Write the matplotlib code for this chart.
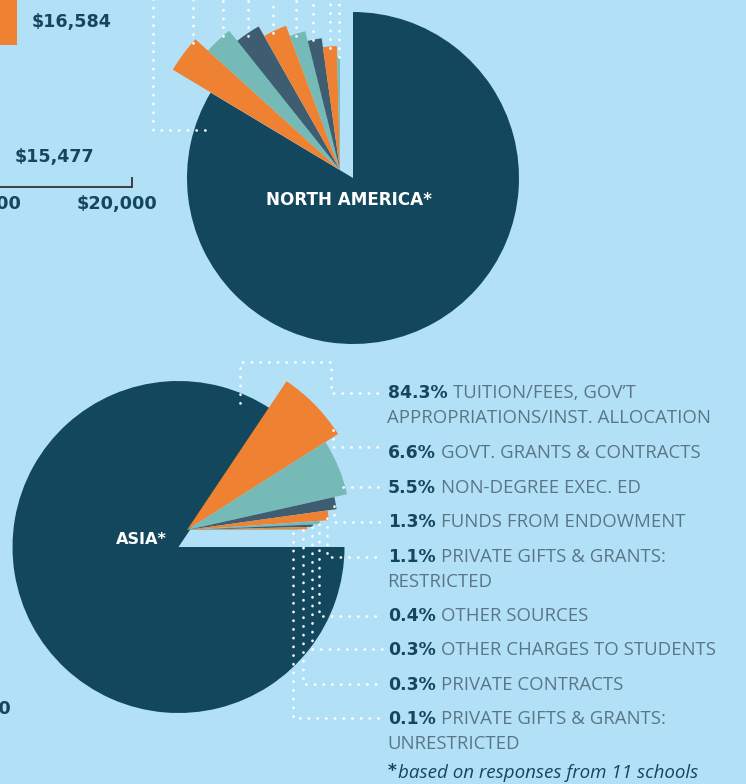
import matplotlib
matplotlib.use("Agg")
import matplotlib.pyplot as plt

# ---------------- data ----------------
categories = [
    "TUITION/FEES, GOV\u2019T\nAPPROPRIATIONS/INST. ALLOCATION",
    "GOVT. GRANTS & CONTRACTS",
    "NON-DEGREE EXEC. ED",
    "FUNDS FROM ENDOWMENT",
    "PRIVATE GIFTS & GRANTS:\nRESTRICTED",
    "OTHER SOURCES",
    "OTHER CHARGES TO STUDENTS",
    "PRIVATE CONTRACTS",
    "PRIVATE GIFTS & GRANTS:\nUNRESTRICTED",
]
asia_pct = [84.3, 6.6, 5.5, 1.3, 1.1, 0.4, 0.3, 0.3, 0.1]
na_pct = [83.6, 3.1, 2.6, 2.5, 2.5, 1.8, 1.7, 1.8, 0.4]   # estimated (legend cropped)
bar_labels = ["$16,584", "$15,477"]
axis_ticks = ["$10,000", "$20,000"]
footnote = "based on responses from 11 schools"

# ---------------- style ----------------
W, H = 746, 784
BG = "#B2E1F7"
NAVY = "#13475D"
ORANGE = "#EF8232"
TEAL = "#75BAB6"
SLATE = "#3E5D71"
GREY = "#5A7686"
small_cycle = [ORANGE, TEAL, SLATE, ORANGE, TEAL, SLATE, ORANGE, TEAL]

def Y(y):
    return H - y

fig = plt.figure(figsize=(W / 100, H / 100), dpi=100)
fig.patch.set_facecolor(BG)
ax = fig.add_axes([0, 0, 1, 1])
ax.set_facecolor(BG)

def exploded_pie(values, center, startangle, vertex, radii):
    wedges, _ = ax.pie(values, colors=[NAVY] + small_cycle, startangle=startangle,
                       counterclock=False, center=center, radius=166,
                       wedgeprops=dict(linewidth=0))
    wedges[0].set_zorder(2)
    for w, r in zip(wedges[1:], radii):
        w.set_center(vertex)
        w.set_radius(r)
        w.set_zorder(3)
    return wedges

# North America pie
exploded_pie(na_pct, (353, Y(178)), 90, (340, Y(170)),
             [195, 178, 165, 154, 143, 133, 124, 113])
# Asia pie
exploded_pie(asia_pct, (178.5, Y(547)), 0, (187, Y(530)),
             [179, 164, 151, 142, 133, 126, 120, 111])

ax.text(349, Y(200), "NORTH AMERICA*", color="white", fontsize=12.1,
        fontweight="bold", family="DejaVu Sans", ha="center", va="center", zorder=6)
ax.text(141, Y(540), "ASIA*", color="white", fontsize=11.6,
        fontweight="bold", family="DejaVu Sans", ha="center", va="center", zorder=6)

# dotted leader lines
def dots(pts):
    xs = [p[0] for p in pts]
    ys = [Y(p[1]) for p in pts]
    ax.plot(xs, ys, color="white", lw=1.9, linestyle=(0, (0.1, 3.2)),
            dash_capstyle="round", zorder=5)

asia_leaders = [
    [(240, 403), (240, 362), (331, 362), (331, 393), (382, 393)],
    [(333, 430), (333, 447), (382, 447)],
    [(343, 487), (382, 487)],
    [(334, 506), (334, 522), (382, 522)],
    [(327, 518), (327, 557), (382, 557)],
    [(319, 524), (319, 616), (382, 616)],
    [(312, 527), (312, 649), (382, 649)],
    [(303, 530), (303, 684), (382, 684)],
    [(293, 533), (293, 718), (382, 718)],
]
for p in asia_leaders:
    dots(p)

na_leaders = [
    [(205, 130), (153, 130), (153, -5)],
    [(193, 43), (193, -5)],
    [(223, 36), (223, -5)],
    [(248, 36), (248, -5)],
    [(273, 33), (273, -5)],
    [(296, 36), (296, -5)],
    [(313, 40), (313, -5)],
    [(330, 48), (330, -5)],
    [(339, 57), (339, -5)],
]
for p in na_leaders:
    dots(p)

# legend text
ax.set_xlim(0, W)
ax.set_ylim(0, H)
ax.axis("off")
renderer = fig.canvas.get_renderer()
inv = ax.transData.inverted()

FS = 12.4
LFS = 13.4
legend_y = [393, 453, 488, 522, 557, 616, 650, 685, 719]
for pct, cat, y in zip(asia_pct, categories, legend_y):
    t = ax.text(388, Y(y), f"{pct:.1f}%", color=NAVY, fontsize=FS, fontweight="bold",
                family="DejaVu Sans", ha="left", va="center")
    bb = t.get_window_extent(renderer)
    x_end = inv.transform((bb.x1, bb.y0))[0]
    lines = cat.split("\n")
    ax.text(x_end + 5, Y(y), lines[0], color=GREY, fontsize=LFS, fontweight="normal",
            family="Open Sans", ha="left", va="center")
    if len(lines) > 1:
        ax.text(387, Y(y + 25), lines[1], color=GREY, fontsize=LFS, fontweight="normal",
                family="Open Sans", ha="left", va="center")

t = ax.text(388, Y(771), "*", color=NAVY, fontsize=FS, fontweight="bold",
            family="DejaVu Sans", ha="left", va="center")
bb = t.get_window_extent(renderer)
x_end = inv.transform((bb.x1, bb.y0))[0]
ax.text(x_end + 1, Y(773), footnote, color=NAVY, fontsize=13.5, style="italic",
        family="Open Sans", ha="left", va="center")

# cropped bar chart remnants on the left
ax.add_patch(plt.Rectangle((-10, Y(45)), 27, 45, color=ORANGE, lw=0))
ax.text(32, Y(22), bar_labels[0], color=NAVY, fontsize=12.6, fontweight="bold",
        family="DejaVu Sans", ha="left", va="center")
ax.text(15, Y(157), bar_labels[1], color=NAVY, fontsize=12.6, fontweight="bold",
        family="DejaVu Sans", ha="left", va="center")
ax.plot([-5, 132, 132], [Y(187), Y(187), Y(177)], color="#333333", lw=1.3,
        solid_capstyle="butt", solid_joinstyle="miter")
ax.text(22, Y(204), axis_ticks[0], color=NAVY, fontsize=12.8, fontweight="bold",
        family="DejaVu Sans", ha="right", va="center")
ax.text(157, Y(204), axis_ticks[1], color=NAVY, fontsize=12.8, fontweight="bold",
        family="DejaVu Sans", ha="right", va="center")
ax.text(11, Y(709), axis_ticks[1], color=NAVY, fontsize=12.8, fontweight="bold",
        family="DejaVu Sans", ha="right", va="center")

fig.savefig("out.png", dpi=100, facecolor=BG)
